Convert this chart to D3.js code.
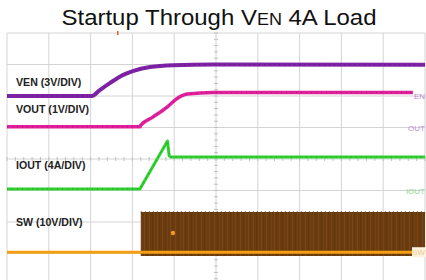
<!DOCTYPE html>
<html>
<head>
<meta charset="utf-8">
<script src="https://cdn.jsdelivr.net/npm/d3@7"></script>
<style>
  body { margin: 0; background: #fff; }
  svg { display: block; font-family: "Liberation Sans", Arial, sans-serif; }
</style>
</head>
<body>
<div id="graph_field"></div>
<script>
// Scope traces, x in time divisions (0-10), y in vertical divisions (-4..4)
let venTrace = [[0, 2.0], [2.03, 2.0], [2.22, 2.19], [2.46, 2.41], [2.78, 2.67], [3.01, 2.79], [3.42, 2.92], [3.97, 2.98], [4.93, 3.0], [10, 2.99]];
let voutTrace = [[0, 1.02], [3.18, 1.02], [3.2, 1.07], [3.49, 1.33], [3.83, 1.65], [4.07, 1.92], [4.31, 2.06], [4.93, 2.11], [9.71, 2.11]];
let ioutTrace = [[0, -0.95], [3.18, -0.95], [3.84, 0.57], [3.88, 0.1], [3.92, 0.06], [10, 0.06]];
let swBase = [[0, -2.96], [9.71, -2.96]];
let swBlock = [[3.2, -1.68], [10, -1.68]];
let swBlockLow = -3.08;
let swCursor = [3.97, -2.35];

let channelLabels = ["VEN (3V/DIV)", "VOUT (1V/DIV)", "IOUT (4A/DIV)", "SW (10V/DIV)"];
let labelLevels = [2.33, 1.47, -0.32, -2.14];
let markerLabels = ["EN", "OUT", "IOUT", "SW"];
let markerLevels = [2.0, 1.0, -1.0, -2.96];
let triggerPos = 2.65;

let width = 426, height = 280;
let x = d3.scaleLinear().domain([0, 10]).range([7, 425]);
let y = d3.scaleLinear().domain([-4, 4]).range([285, 33]);

let svg = d3.select("#graph_field")
    .append("svg")
    .attr("width", width)
    .attr("height", height);

// streaky texture for the switching burst
let defs = svg.append("defs");
let pat = defs.append("pattern")
    .attr("id", "swStripes")
    .attr("patternUnits", "userSpaceOnUse")
    .attr("width", 13).attr("height", 10);
pat.append("rect").attr("width", 13).attr("height", 10).attr("fill", "#6b3c10");
[[1, 0.8, "#7a4a1a"], [3.5, 0.6, "#603408"], [6, 1, "#774616"], [9, 0.6, "#5e3308"], [11, 0.8, "#74451a"]].forEach(s => {
    pat.append("rect").attr("x", s[0]).attr("width", s[1]).attr("height", 10).attr("fill", s[2]);
});

// title, with small caps "EN"
let title = svg.append("text")
    .attr("x", 219)
    .attr("y", 25)
    .attr("text-anchor", "middle")
    .attr("textLength", 315)
    .attr("lengthAdjust", "spacingAndGlyphs")
    .style("font-size", "22px")
    .attr("fill", "#111");
title.append("tspan").text("Startup Through V");
title.append("tspan").style("font-size", "16.5px").text("EN");
title.append("tspan").text(" 4A Load");

// grid
let grid = svg.append("g");
grid.selectAll(".vx")
    .data(d3.range(0, 11))
    .enter().append("line")
    .attr("x1", d => x(d)).attr("x2", d => x(d))
    .attr("y1", y(4)).attr("y2", y(-4))
    .attr("stroke", "#d4d4d4").attr("stroke-width", 1);
grid.selectAll(".hy")
    .data(d3.range(-4, 5))
    .enter().append("line")
    .attr("x1", x(0)).attr("x2", x(10))
    .attr("y1", d => y(d)).attr("y2", d => y(d))
    .attr("stroke", "#d4d4d4").attr("stroke-width", 1);

// minor ticks on center axes
grid.selectAll(".mt")
    .data(d3.range(-4, 4.01, 0.2))
    .enter().append("line")
    .attr("x1", x(5) - 2).attr("x2", x(5) + 2)
    .attr("y1", d => y(d)).attr("y2", d => y(d))
    .attr("stroke", "#c0c0c0").attr("stroke-width", 1);
grid.selectAll(".mtx")
    .data(d3.range(0, 10.01, 0.2))
    .enter().append("line")
    .attr("x1", d => x(d)).attr("x2", d => x(d))
    .attr("y1", y(0) - 2).attr("y2", y(0) + 2)
    .attr("stroke", "#c0c0c0").attr("stroke-width", 1);

// trigger marker
svg.append("line")
    .attr("x1", x(triggerPos)).attr("x2", x(triggerPos))
    .attr("y1", y(4) - 2).attr("y2", y(4) + 2)
    .attr("stroke", "#e06030").attr("stroke-width", 1.5);

let line = d3.line()
    .x(d => x(d[0]))
    .y(d => y(d[1]))
    .curve(d3.curveMonotoneX);
let straight = d3.line()
    .x(d => x(d[0]))
    .y(d => y(d[1]));

// SW switching block
svg.append("path")
    .datum(swBlock)
    .attr("d", d3.area().x(d => x(d[0])).y0(y(swBlockLow)).y1(d => y(d[1])))
    .attr("fill", "url(#swStripes)");
svg.append("path")
    .datum(swBlock)
    .attr("d", straight)
    .attr("stroke", "#4a2806").attr("stroke-width", 1).attr("stroke-dasharray", "1,3")
    .attr("fill", "none");
svg.append("path")
    .datum(swBase)
    .attr("d", straight)
    .attr("stroke", "#f5a014").attr("stroke-width", 3.2)
    .attr("fill", "none");
svg.append("circle")
    .attr("cx", x(swCursor[0])).attr("cy", y(swCursor[1]))
    .attr("r", 2.2)
    .attr("fill", "#f59a20");

// traces
let traces = [
    {data: venTrace, color: "#7e22a6", w: 4, shape: line},
    {data: voutTrace, color: "#e0209c", w: 3.5, shape: line},
    {data: ioutTrace, color: "#2fd02f", w: 3, shape: straight}
];
traces.forEach(t => {
    svg.append("path")
        .datum(t.data)
        .attr("d", t.shape)
        .attr("stroke", t.color)
        .attr("stroke-width", t.w)
        .attr("stroke-linejoin", "round")
        .attr("fill", "none");
    svg.append("path")
        .datum(t.data)
        .attr("d", t.shape)
        .attr("stroke", "#000")
        .attr("stroke-opacity", 0.25)
        .attr("stroke-width", 1)
        .attr("stroke-dasharray", "1,4")
        .attr("fill", "none");
});

// channel labels
svg.selectAll(".chl")
    .data(channelLabels)
    .enter().append("text")
    .attr("x", 16)
    .attr("y", (d, i) => y(labelLevels[i]))
    .style("font-size", "10.6px")
    .style("font-weight", "bold")
    .attr("fill", "#222")
    .text(d => d);

// reference markers at right edge
let markerColors = ["#c27ed8", "#c08ce0", "#8fdc8f", "#f2c890"];
svg.append("rect")
    .attr("x", 412).attr("y", y(markerLevels[3]) - 5)
    .attr("width", 14).attr("height", 10)
    .attr("fill", "#fdf3de");
svg.selectAll(".mk")
    .data(markerLabels)
    .enter().append("text")
    .attr("x", 425)
    .attr("y", (d, i) => y(markerLevels[i]) + 3)
    .attr("text-anchor", "end")
    .style("font-size", "8px")
    .attr("fill", (d, i) => markerColors[i])
    .text(d => d);
</script>
</body>
</html>
